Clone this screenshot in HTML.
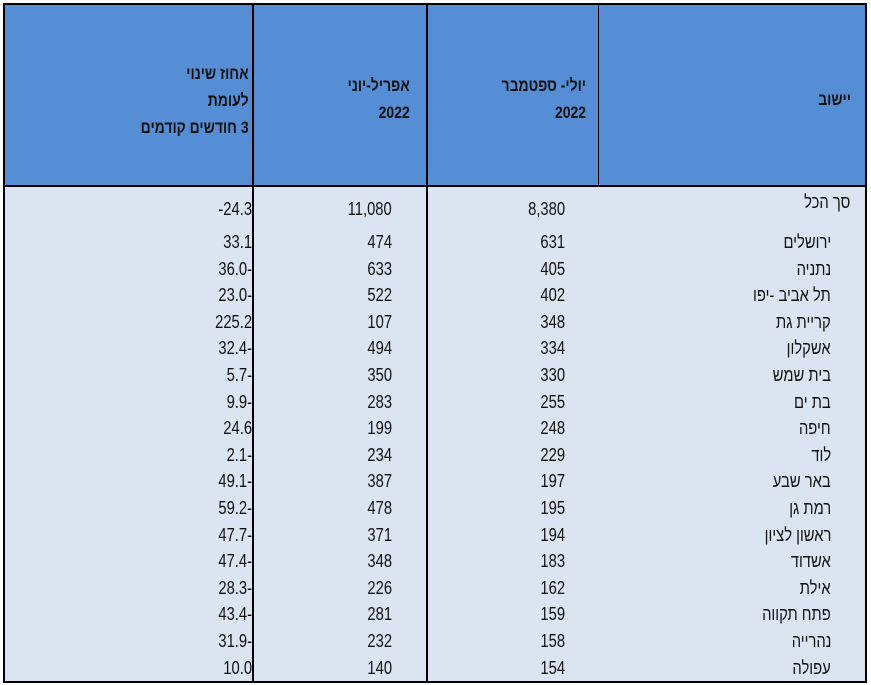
<!DOCTYPE html>
<html><head><meta charset="utf-8">
<style>
body{margin:0;width:871px;height:685px;background:#fff;overflow:hidden;position:relative;font-family:"Liberation Sans","Noto Sans CJK SC",sans-serif;}
.t{position:absolute;font-size:18px;color:#111;white-space:nowrap;transform:scaleX(0.82);}
.r{transform-origin:right center;}
.h{font-weight:bold;font-size:17px;line-height:27px;text-align:right;direction:rtl;}
.ln{position:absolute;background:#000;}
</style></head>
<body>
<div style="position:absolute;left:4px;top:4px;width:862px;height:182px;background:#558ed5"></div>
<div style="position:absolute;left:4px;top:187px;width:862px;height:495px;background:#dbe5f1"></div>
<div class="ln" style="left:4px;top:3px;width:863px;height:2px"></div>
<div class="ln" style="left:4px;top:681px;width:863px;height:2px"></div>
<div class="ln" style="left:3px;top:3px;width:2px;height:680px"></div>
<div class="ln" style="left:865px;top:3px;width:2px;height:680px"></div>
<div class="ln" style="left:4px;top:185px;width:862px;height:2px"></div>
<div class="ln" style="left:252px;top:4px;width:2px;height:678px"></div>
<div class="ln" style="left:426px;top:4px;width:2px;height:678px"></div>
<div class="ln" style="left:598px;top:4px;width:1px;height:182px"></div>

<div class="t r h" style="right:622px;top:60px">אחוז שינוי<br>לעומת<br>3 חודשים קודמים</div>
<div class="t r h" style="right:461px;top:72px">אפריל-יוני<br>2022</div>
<div class="t r h" style="right:285px;top:72px">יולי- ספטמבר<br>2022</div>
<div class="t r h" style="right:20px;top:86px">יישוב</div>

<script>
const cities=["סך הכל","ירושלים","נתניה","תל אביב -יפו","קריית גת","אשקלון","בית שמש","בת ים","חיפה","לוד","באר שבע","רמת גן","ראשון לציון","אשדוד","אילת","פתח תקווה","נהרייה","עפולה"];
const julSep=["8,380","631","405","402","348","334","330","255","248","229","197","195","194","183","162","159","158","154"];
const aprJun=["11,080","474","633","522","107","494","350","283","199","234","387","478","371","348","226","281","232","140"];
const change=["-24.3","33.1","36.0-","23.0-","225.2","32.4-","5.7-","9.9-","24.6","2.1-","49.1-","59.2-","47.7-","47.4-","28.3-","43.4-","31.9-","10.0"];
function rowY(i){return i===0?199:232+(i-1)*26.6;}
function add(txt,right,top,name){
  const d=document.createElement('div');
  d.className='t r';
  d.textContent=txt;
  d.style.right=right+'px';d.style.top=top+'px';
  
  
  document.body.appendChild(d);
}
for(let i=0;i<cities.length;i++){
  const y=rowY(i);
  add(cities[i],i===0?21:40,i===0?y-7:y,'city-name');
  add(julSep[i],306,y,'jul-sep-value');
  add(aprJun[i],479,y,'apr-jun-value');
  add(change[i],619,y,'change-value');
}
</script>
</body></html>
